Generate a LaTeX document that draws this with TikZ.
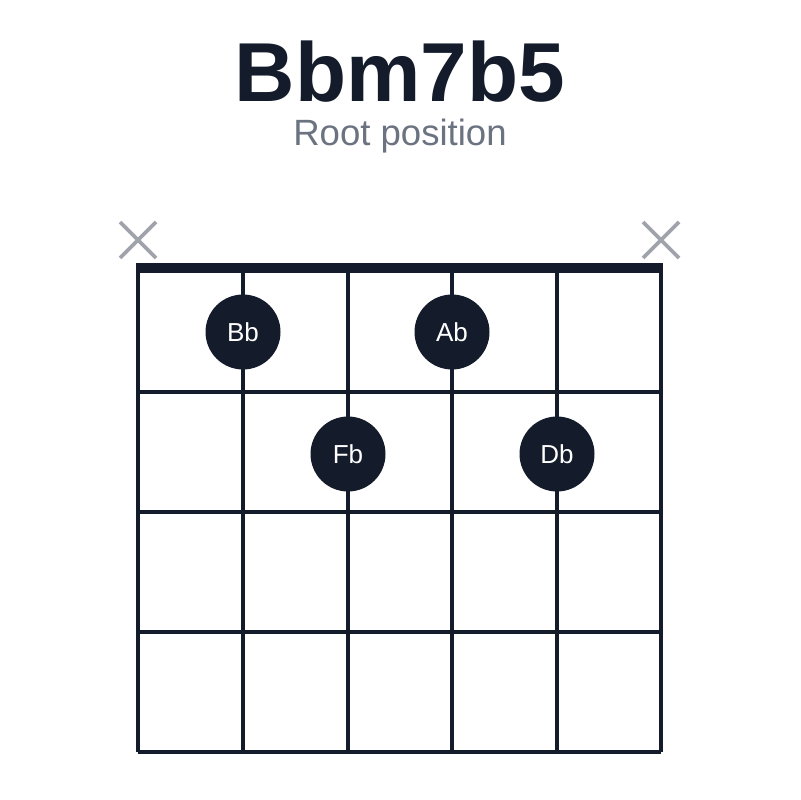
\documentclass[tikz,border=0pt]{standalone}
\usepackage{fontspec}
\setmainfont{Liberation Sans}
\usetikzlibrary{positioning}
\definecolor{ink}{HTML}{141B2B}
\definecolor{subgray}{HTML}{6B7280}
\definecolor{mutegray}{HTML}{A0A3AB}

\begin{document}
\begin{tikzpicture}[x=0.025cm, y=-0.025cm,
    grid/.style={draw=ink, line width=2.2pt},
    finger/.style={circle, fill=ink, minimum size=75*0.025cm, inner sep=0pt, text=white, font=\fontsize{18.5}{18.5}\selectfont},
    mute/.style={draw=mutegray, line width=2.6pt}
]
    \useasboundingbox (0,0) rectangle (800,800);

    % Title
    \node[font=\fontsize{59.5}{59.5}\selectfont\bfseries, text=ink] (title) at (400,72) {Bbm7b5};
    \node[font=\fontsize{26}{26}\selectfont, text=subgray] (subtitle) at (400,136) {Root position};

    % Strings and frets
    \foreach \x in {138,243,348,452,557,661}
        \draw[grid] (\x,268) -- (\x,752);
    \foreach \y in {392,512,632,752}
        \draw[grid] (138,\y) -- (661,\y);
    \draw[draw=ink, line width=7.5pt] (136,268) -- (663,268);

    % Muted strings
    \foreach \x in {138,661} {
        \draw[mute] (\x-18,222) -- (\x+18,258);
        \draw[mute] (\x-18,258) -- (\x+18,222);
    }

    % Fingers
    \node[finger] (bb) at (243,332) {Bb};
    \node[finger] (ab) at (452,332) {Ab};
    \node[finger] (fb) at (348,454) {Fb};
    \node[finger] (db) at (557,454) {Db};
\end{tikzpicture}
\end{document}
